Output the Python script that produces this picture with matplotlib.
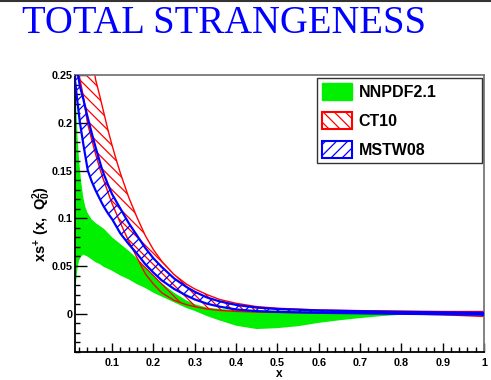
import numpy as np
import matplotlib
matplotlib.use("Agg")
import matplotlib.pyplot as plt
from matplotlib.patches import Patch
from matplotlib.ticker import MultipleLocator, FuncFormatter

# NNPDF2.1 band
x_nn = [0.01, 0.013, 0.016, 0.02, 0.025, 0.03, 0.035, 0.04, 0.05, 0.06, 0.07, 0.08,
        0.10, 0.12, 0.14, 0.16, 0.18, 0.20, 0.22, 0.25, 0.28, 0.30, 0.33, 0.36, 0.40,
        0.45, 0.50, 0.55, 0.60, 0.65, 0.70, 0.75, 0.80, 0.85, 0.90, 0.95, 1.0]
nn_hi = [0.255, 0.215, 0.185, 0.160, 0.138, 0.122, 0.112, 0.106, 0.099, 0.095, 0.092, 0.089,
         0.080, 0.073, 0.066, 0.058, 0.049, 0.040, 0.032, 0.022, 0.014, 0.010, 0.0065, 0.005, 0.004,
         0.0035, 0.003, 0.003, 0.003, 0.0028, 0.0025, 0.002, 0.0015, 0.001, 0.0005, 0.0002, 0.0]
nn_lo = [0.015, 0.035, 0.048, 0.056, 0.060, 0.062, 0.061, 0.060, 0.057, 0.054, 0.052, 0.049,
         0.045, 0.040, 0.036, 0.031, 0.027, 0.022, 0.018, 0.012, 0.006, 0.003, -0.0025, -0.007, -0.0125,
         -0.016, -0.015, -0.013, -0.0095, -0.0068, -0.0045, -0.0025, -0.001, -0.0003, 0.0, 0.0, 0.0]

# CT10 band
x_ct = [0.015, 0.02, 0.03, 0.04, 0.05, 0.06, 0.07, 0.08, 0.09, 0.10, 0.11, 0.12, 0.14, 0.16,
        0.18, 0.20, 0.22, 0.25, 0.28, 0.30, 0.33, 0.36, 0.40, 0.45, 0.50, 0.60, 0.70, 0.80,
        0.90, 1.0]
ct_hi = [0.36, 0.34, 0.31, 0.29, 0.27, 0.245, 0.228, 0.210, 0.192, 0.176, 0.161, 0.147, 0.122, 0.101,
         0.082, 0.067, 0.055, 0.041, 0.031, 0.026, 0.020, 0.015, 0.011, 0.0075, 0.0058, 0.004, 0.0033, 0.0028,
         0.0024, 0.0024]
ct_lo = [0.26, 0.25, 0.228, 0.200, 0.183, 0.167, 0.152, 0.139, 0.127, 0.115, 0.105, 0.095, 0.076, 0.059,
         0.042, 0.031, 0.022, 0.014, 0.0095, 0.0075, 0.005, 0.0035, 0.0025, 0.0018, 0.0014, 0.001, 0.0005, 0.0,
         -0.001, -0.0028]

# MSTW08 band
x_mstw = [0.01, 0.015, 0.022, 0.03, 0.041, 0.05, 0.06, 0.075, 0.08, 0.09, 0.10, 0.12, 0.14, 0.16,
          0.18, 0.20, 0.22, 0.25, 0.28, 0.30, 0.33, 0.36, 0.40, 0.45, 0.50, 0.60, 0.70, 0.80,
          0.90, 1.0]
mstw_hi = [0.28, 0.256, 0.238, 0.225, 0.205, 0.190, 0.174, 0.152, 0.146, 0.135, 0.125, 0.110, 0.095, 0.082,
           0.069, 0.058, 0.049, 0.037, 0.028, 0.023, 0.017, 0.013, 0.0093, 0.0065, 0.005, 0.0035, 0.0027, 0.002,
           0.0015, 0.001]
mstw_lo = [0.245, 0.225, 0.200, 0.178, 0.150, 0.139, 0.129, 0.116, 0.112, 0.105, 0.099, 0.084, 0.073, 0.063,
           0.052, 0.043, 0.035, 0.026, 0.019, 0.015, 0.0105, 0.0075, 0.0045, 0.0028, 0.002, 0.001, 0.0005, 0.0,
           -0.0005, -0.001]

labels = ["NNPDF2.1", "CT10", "MSTW08"]
green = "#00f000"

plt.rcParams["hatch.linewidth"] = 0.9
plt.rcParams["mathtext.fontset"] = "custom"
plt.rcParams["mathtext.bf"] = "Liberation Sans:bold"
plt.rcParams["mathtext.rm"] = "Liberation Sans"

fig = plt.figure(figsize=(4.91, 3.80), dpi=100)
ax = fig.add_axes([75 / 491, 28 / 380, 409 / 491, 277 / 380])

ax.fill_between(x_nn, nn_lo, nn_hi, facecolor=green, edgecolor="none", zorder=1)
ax.fill_between(x_ct, ct_lo, ct_hi, facecolor="none", edgecolor="red", hatch="\\\\\\",
                linewidth=1.0, zorder=2)
ax.fill_between(x_mstw, mstw_lo, mstw_hi, facecolor="none", edgecolor="blue", hatch="///",
                linewidth=1.6, zorder=3)

ax.set_xlim(0.01, 1.0)
ax.set_ylim(-0.04, 0.25)

ax.xaxis.set_major_locator(MultipleLocator(0.1))
ax.xaxis.set_minor_locator(MultipleLocator(0.02))
ax.yaxis.set_major_locator(MultipleLocator(0.05))
ax.yaxis.set_minor_locator(MultipleLocator(0.01))
fmt = FuncFormatter(lambda v, p: "%g" % round(v, 4))
ax.xaxis.set_major_formatter(fmt)
ax.yaxis.set_major_formatter(fmt)

ax.tick_params(which="both", direction="in", top=False, right=False, width=1.0)
ax.tick_params(which="major", axis="x", length=6.5, pad=4)
ax.tick_params(which="major", axis="y", length=8.5, pad=2)
ax.tick_params(which="minor", length=3.5)
for lab in ax.get_xticklabels() + ax.get_yticklabels():
    lab.set_fontfamily("Liberation Sans")
    lab.set_fontweight("bold")
    lab.set_fontsize(7.8)

ax.spines["left"].set_linewidth(1.3)
ax.spines["bottom"].set_linewidth(1.3)
ax.spines["top"].set_color("#777777")
ax.spines["right"].set_color("#777777")
ax.spines["top"].set_linewidth(1.3)
ax.spines["right"].set_linewidth(1.3)

ax.set_xlabel("x", fontfamily="Liberation Sans", fontweight="bold", fontsize=8.5, labelpad=0)
fig.text(42 / 491, 1 - 224 / 380, r"$\mathbf{xs^{+}\ (x,\ Q_{0}^{2})}$", rotation=90,
         ha="center", va="center", fontsize=10.5)

handles = [
    Patch(facecolor=green, edgecolor=green, linewidth=1.0),
    Patch(facecolor="white", edgecolor="red", hatch="\\\\\\", linewidth=1.5),
    Patch(facecolor="white", edgecolor="blue", hatch="///", linewidth=1.5),
]
leg = ax.legend(handles, labels, loc="upper left", bbox_to_anchor=(0.592, 0.0, 0.403, 0.989),
                mode="expand", borderaxespad=0, fancybox=False, frameon=True,
                prop={"family": "Liberation Sans", "weight": "bold", "size": 11.5},
                handlelength=1.9, handleheight=1.3, handletextpad=0.4, labelspacing=0.72,
                borderpad=0.3)
leg.get_frame().set_edgecolor("black")
leg.get_frame().set_linewidth(1.0)
leg.set_zorder(10)

fig.text(22 / 491, 1 - 33 / 380, "TOTAL STRANGENESS", color="blue", fontfamily="Liberation Serif",
         fontsize=27.8, ha="left", va="baseline")
fig.add_artist(plt.Line2D([0, 1], [1 - 1 / 380, 1 - 1 / 380], color="#333333", linewidth=1.5,
                          transform=fig.transFigure))

fig.savefig("out.png", dpi=100)
